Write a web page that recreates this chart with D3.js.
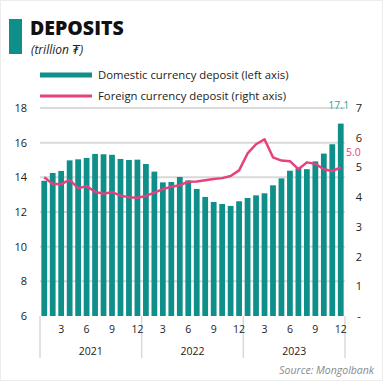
<!DOCTYPE html>
<html>
<head>
<meta charset="utf-8">
<script src="https://cdn.jsdelivr.net/npm/d3@7"></script>
<style>
  body { margin: 0; background: #fff; }
  svg { display: block; font-family: "Open Sans", "DejaVu Sans", sans-serif; }
</style>
</head>
<body>
<svg id="chart" width="383" height="381"></svg>
<script>
// months Jan 2021 .. Dec 2023
var years = ["2021", "2022", "2023"];
var monthTicks = [3, 6, 9, 12];

// domestic currency deposit, trillion MNT (left axis)
var domestic = [
  13.8, 14.25, 14.37, 14.98, 15.04, 15.12, 15.35, 15.33, 15.3, 15.06, 15.0, 15.02,
  14.77, 14.33, 13.71, 13.73, 14.02, 13.82, 13.33, 12.87, 12.58, 12.46, 12.35, 12.62,
  12.81, 12.96, 13.08, 13.54, 13.94, 14.38, 14.52, 14.47, 14.92, 15.37, 15.91, 17.1
];

// foreign currency deposit, trillion MNT (right axis)
var foreign = [
  4.67, 4.44, 4.44, 4.58, 4.3, 4.37, 4.18, 4.11, 4.17, 4.05, 4.0, 3.98,
  4.04, 4.15, 4.27, 4.35, 4.4, 4.52, 4.53, 4.57, 4.61, 4.64, 4.71, 4.9,
  5.47, 5.78, 5.95, 5.34, 5.23, 5.21, 4.94, 5.17, 5.12, 4.94, 4.88, 5.0
];

var leftTicks = [6, 8, 10, 12, 14, 16, 18];
var rightTicks = [0, 1, 2, 3, 4, 5, 6, 7];

var teal = "#0f8f89",
  pink = "#e8407f",
  grid = "#d9d9d9";

var svg = d3.select("#chart"),
  plotL = 40, plotR = 345, plotT = 108, plotB = 316;

svg.append("rect")
  .attr("x", 0.5).attr("y", 0.5)
  .attr("width", 382).attr("height", 380)
  .attr("fill", "#fff").attr("stroke", "#ececec");

var idx = d3.range(domestic.length);

var x = d3.scaleBand()
  .domain(idx)
  .range([plotL, plotR])
  .paddingInner(0.32)
  .paddingOuter(0.16);

var yL = d3.scaleLinear().domain([6, 18]).range([plotB, plotT]);
var yR = d3.scaleLinear().domain([0, 7]).range([plotB, plotT]);

// title
svg.append("rect")
  .attr("x", 9).attr("y", 19).attr("width", 13).attr("height", 35)
  .attr("fill", teal);
svg.append("text")
  .attr("x", 30).attr("y", 35)
  .attr("font-size", 19.5).attr("font-weight", 800)
  .attr("fill", "#111")
  .text("DEPOSITS");
svg.append("text")
  .attr("x", 31).attr("y", 54)
  .attr("font-size", 12).attr("font-style", "italic")
  .attr("fill", "#222")
  .text("(trillion ₮)");

// legend
svg.append("line")
  .attr("x1", 40).attr("x2", 92).attr("y1", 75).attr("y2", 75)
  .attr("stroke", teal).attr("stroke-width", 5);
svg.append("text")
  .attr("x", 98).attr("y", 79)
  .attr("font-size", 11.3).attr("fill", "#222")
  .text("Domestic currency deposit  (left axis)");
svg.append("line")
  .attr("x1", 40).attr("x2", 92).attr("y1", 96).attr("y2", 96)
  .attr("stroke", pink).attr("stroke-width", 3);
svg.append("text")
  .attr("x", 98).attr("y", 100)
  .attr("font-size", 11.3).attr("fill", "#222")
  .text("Foreign currency deposit (right axis)");

// gridlines
svg.append("g")
  .selectAll("line")
  .data(leftTicks.slice(1))
  .join("line")
  .attr("x1", plotL).attr("x2", plotR)
  .attr("y1", d => yL(d)).attr("y2", d => yL(d))
  .attr("stroke", grid).attr("stroke-width", 2);

// left axis labels
svg.append("g")
  .selectAll("text")
  .data(leftTicks)
  .join("text")
  .attr("x", 27).attr("y", d => yL(d) + 4)
  .attr("text-anchor", "end")
  .attr("font-size", 11).attr("fill", "#222")
  .text(d => d);

// right axis labels
svg.append("g")
  .selectAll("text")
  .data(rightTicks)
  .join("text")
  .attr("x", 359).attr("y", d => yR(d) + 4)
  .attr("text-anchor", "middle")
  .attr("font-size", 11).attr("fill", "#222")
  .text(d => d === 0 ? "-" : d);

// bars
svg.append("g")
  .selectAll("rect")
  .data(domestic)
  .join("rect")
  .attr("x", (d, i) => x(i))
  .attr("width", x.bandwidth())
  .attr("y", d => yL(d))
  .attr("height", d => yL(6) - yL(d))
  .attr("fill", teal);

// line
var line = d3.line()
  .x((d, i) => x(i) + x.bandwidth() / 2)
  .y(d => yR(d));

svg.append("path")
  .datum(foreign)
  .attr("d", line)
  .attr("fill", "none")
  .attr("stroke", pink)
  .attr("stroke-width", 2.5)
  .attr("stroke-linejoin", "round");

// end labels
var last = domestic.length - 1;
svg.append("text")
  .attr("x", x(last) + x.bandwidth() / 2 - 2).attr("y", yL(domestic[last]) - 15)
  .attr("text-anchor", "middle")
  .attr("font-size", 10.5).attr("fill", "#2aa6a0")
  .text(domestic[last].toFixed(1));
svg.append("text")
  .attr("x", 346).attr("y", yR(foreign[last]) - 11)
  .attr("font-size", 10.5).attr("fill", pink)
  .text(foreign[last].toFixed(1));

// x axis: month ticks and year groups
var yearW = (plotR - plotL) / years.length;
svg.append("g")
  .selectAll("line")
  .data(d3.range(years.length + 1))
  .join("line")
  .attr("x1", d => plotL + d * yearW).attr("x2", d => plotL + d * yearW)
  .attr("y1", plotB).attr("y2", 358)
  .attr("stroke", grid).attr("stroke-width", 1.5);

var monthLabels = [];
years.forEach(function (yr, yi) {
  monthTicks.forEach(function (m) {
    monthLabels.push({ i: yi * 12 + m - 1, m: m });
  });
});

svg.append("g")
  .selectAll("text")
  .data(monthLabels)
  .join("text")
  .attr("x", d => x(d.i) + x.bandwidth() / 2)
  .attr("y", 333)
  .attr("text-anchor", "middle")
  .attr("font-size", 10.5).attr("fill", "#222")
  .text(d => d.m);

svg.append("g")
  .selectAll("text")
  .data(years)
  .join("text")
  .attr("x", (d, i) => plotL + (i + 0.5) * yearW)
  .attr("y", 355)
  .attr("text-anchor", "middle")
  .attr("font-size", 10.5).attr("fill", "#222")
  .text(d => d);

svg.append("text")
  .attr("x", 374).attr("y", 374)
  .attr("text-anchor", "end")
  .attr("font-size", 10.5).attr("font-style", "italic")
  .attr("fill", "#8a8a8a")
  .text("Source: Mongolbank");
</script>
</body>
</html>
